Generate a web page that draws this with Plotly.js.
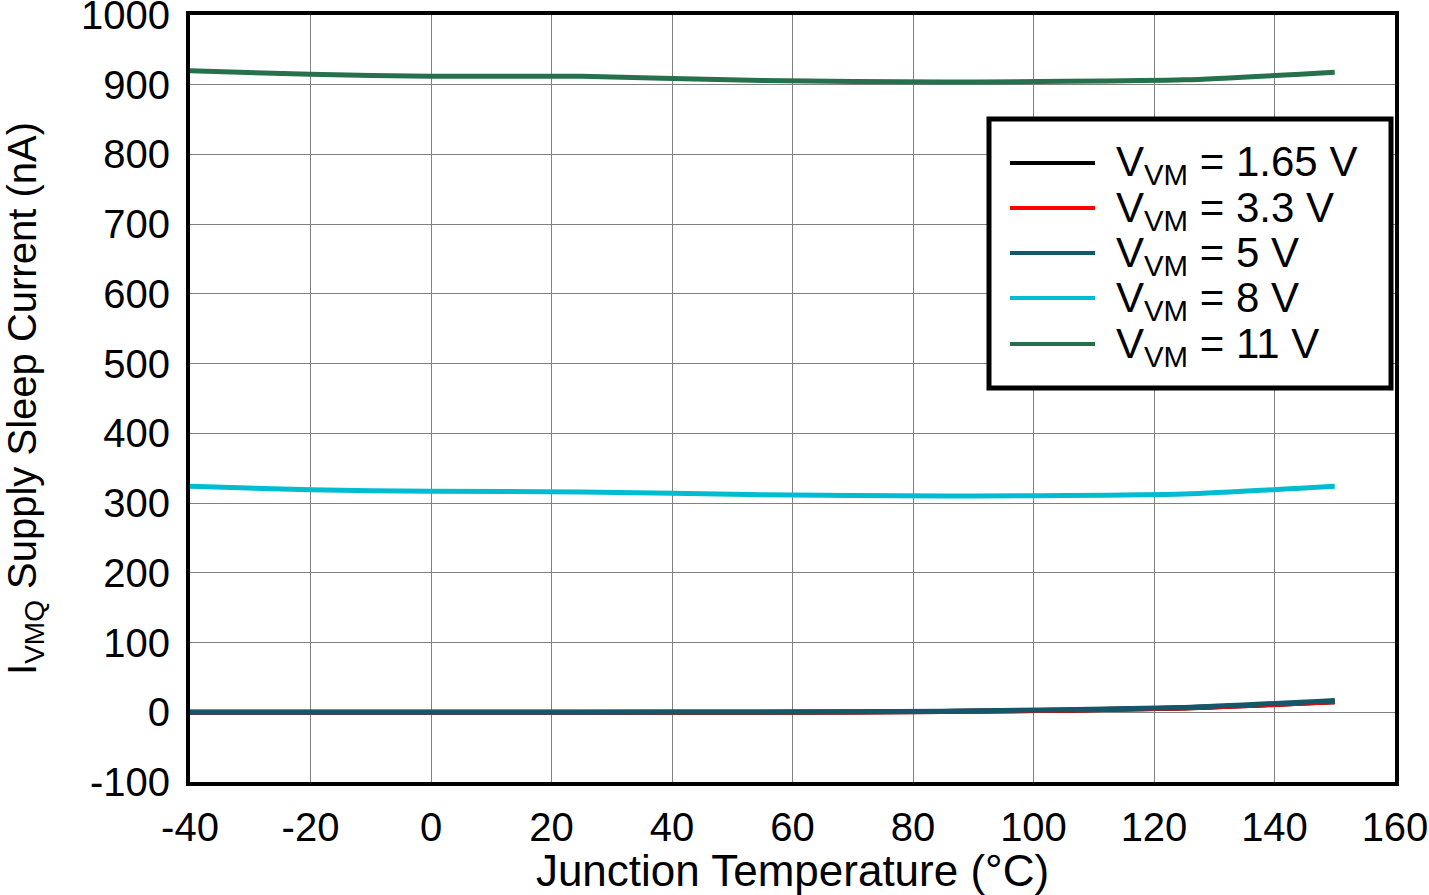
<!DOCTYPE html>
<html>
<head>
<meta charset="utf-8">
<script src="https://cdn.plot.ly/plotly-3.0.1.min.js"></script>
<style>body{margin:0;background:#fff;}#chart{width:1429px;height:895px;}</style>
</head>
<body>
<div id="chart"></div>
<script>
const temps = [-40, -20, 0, 25, 55, 85, 125, 150];
const v165 = [0, 0, 0, 0, 0, 1, 6, 15];
const v33 = [0, 0, 0, 0, 0, 1, 6, 15];
const v5 = [0, 0, 0, 0, 0.5, 1.5, 7, 17];
const v8 = [324, 319, 317, 316, 312, 310, 313, 324];
const v11 = [920, 915, 912, 912, 906, 904, 907, 918];
const names = ['V<sub>VM</sub> = 1.65 V', 'V<sub>VM</sub> = 3.3 V', 'V<sub>VM</sub> = 5 V', 'V<sub>VM</sub> = 8 V', 'V<sub>VM</sub> = 11 V'];
const colors = ['#000000', '#ff0000', '#14566a', '#00bcd0', '#27704c'];
const series = [v165, v33, v5, v8, v11];
const xTickVals = [-40, -20, 0, 20, 40, 60, 80, 100, 120, 140, 160];
const xTickText = ['-40', '-20', '0', '20', '40', '60', '80', '100', '120', '140', '160'];
const yTickVals = [-100, 0, 100, 200, 300, 400, 500, 600, 700, 800, 900, 1000];
const yTickText = ['-100', '0', '100', '200', '300', '400', '500', '600', '700', '800', '900', '1000'];

const W = 1429, H = 895;
const M = {l: 190, r: 34, t: 15, b: 113};
const PW = W - M.l - M.r, PH = H - M.t - M.b;
const px = x => (x - M.l) / PW;
const py = y => (H - M.b - y) / PH;

const traces = series.map((ys, i) => ({
  x: temps, y: ys, type: 'scatter', mode: 'lines', name: names[i],
  line: {color: colors[i], width: 5, shape: 'spline', smoothing: 0.6},
  showlegend: false
}));

const FF = 'Liberation Sans, Arial, sans-serif';
const tickFont = {family: FF, size: 40, color: '#000'};
const titleFont = {family: FF, size: 44, color: '#000'};
const legFont = {family: FF, size: 42, color: '#000'};

// custom legend (box, line samples, labels)
const shapes = [{
  type: 'rect', xref: 'paper', yref: 'paper',
  x0: px(989), x1: px(1391), y0: py(119), y1: py(388),
  line: {color: '#000', width: 5}, fillcolor: '#fff', layer: 'above'
}];
const annotations = [];
const rowY = [163, 208, 253, 298, 344];
names.forEach((n, i) => {
  shapes.push({
    type: 'line', xref: 'paper', yref: 'paper',
    x0: px(1010), x1: px(1095), y0: py(rowY[i]), y1: py(rowY[i]),
    line: {color: colors[i], width: 4}, layer: 'above'
  });
  annotations.push({
    xref: 'paper', yref: 'paper', x: px(1114), y: py(rowY[i] + 2),
    xanchor: 'left', yanchor: 'middle', showarrow: false,
    text: n, font: legFont
  });
});

const layout = {
  width: W, height: H,
  margin: M,
  paper_bgcolor: '#fff', plot_bgcolor: '#fff',
  font: tickFont,
  showlegend: false,
  xaxis: {
    range: [-40, 160], tickmode: 'array', tickvals: xTickVals, ticktext: xTickText,
    showgrid: true, gridcolor: '#808080', gridwidth: 1,
    showline: true, mirror: true, linecolor: '#000', linewidth: 4,
    zeroline: false, ticks: 'outside', ticklen: 7, tickcolor: 'rgba(0,0,0,0)',
    tickfont: tickFont, ticklabeloverflow: 'allow',
    title: {text: 'Junction Temperature (°C)', font: titleFont, standoff: 2}
  },
  yaxis: {
    range: [-100, 1000], tickmode: 'array', tickvals: yTickVals, ticktext: yTickText,
    showgrid: true, gridcolor: '#808080', gridwidth: 1,
    showline: true, mirror: true, linecolor: '#000', linewidth: 4,
    zeroline: false, ticks: 'outside', ticklen: 8, tickcolor: 'rgba(0,0,0,0)',
    tickfont: tickFont, ticklabeloverflow: 'allow',
    title: {text: 'I<sub>VMQ</sub> Supply Sleep Current (nA)', font: {family: FF, size: 40, color: '#000'}, standoff: 40}
  },
  shapes: shapes,
  annotations: annotations
};
Plotly.newPlot('chart', traces, layout, {displayModeBar: false, staticPlot: true});
</script>
</body>
</html>
